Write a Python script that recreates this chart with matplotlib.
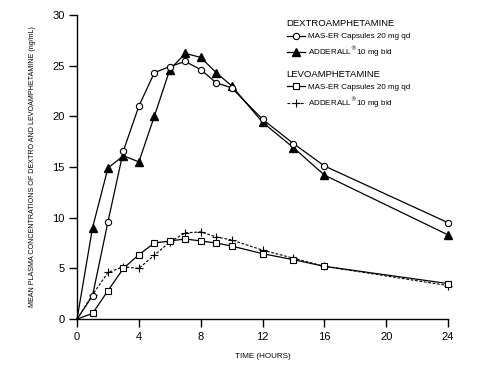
import matplotlib
matplotlib.use("Agg")
import matplotlib.pyplot as plt

plt.rcParams["font.family"] = ["Liberation Sans", "DejaVu Sans"]

hours = [0, 1, 2, 3, 4, 5, 6, 7, 8, 9, 10, 12, 14, 16, 24]
dextro_maser = [0, 2.3, 9.6, 16.6, 21.0, 24.3, 24.9, 25.4, 24.6, 23.3, 22.8, 19.7, 17.3, 15.1, 9.5]
dextro_adderall = [0, 9.0, 14.9, 16.1, 15.5, 20.0, 24.6, 26.2, 25.8, 24.3, 23.0, 19.4, 16.9, 14.2, 8.3]
levo_maser = [0, 0.55, 2.8, 5.0, 6.35, 7.5, 7.7, 7.9, 7.7, 7.5, 7.2, 6.45, 5.85, 5.2, 3.5]
levo_adderall = [0, 2.4, 4.6, 5.15, 5.0, 6.3, 7.6, 8.5, 8.6, 8.1, 7.8, 6.8, 6.0, 5.2, 3.3]

x_ticks = [0, 4, 8, 12, 16, 20, 24]
y_ticks = [0, 5, 10, 15, 20, 25, 30]

fig = plt.figure(figsize=(4.94, 3.71), dpi=100)
ax = fig.add_axes([0.156, 0.140, 0.751, 0.820])

# no marker drawn at the t=0 point
mk_idx = list(range(1, len(hours)))
lw = 0.9
h1, = ax.plot(hours, dextro_maser, color="black", lw=lw, marker="o", ms=4.5,
              mfc="white", mec="black", mew=0.8, markevery=mk_idx, clip_on=False, zorder=4)
h2, = ax.plot(hours, dextro_adderall, color="black", lw=lw, marker="^", ms=5.5,
              mfc="black", mec="black", markevery=mk_idx, clip_on=False, zorder=3)
h4, = ax.plot(hours, levo_adderall, color="black", lw=0.8, ls=(0, (2.5, 1.5)), marker="+",
              ms=5.5, mew=0.8, markevery=mk_idx, clip_on=False, zorder=3)
h3, = ax.plot(hours, levo_maser, color="black", lw=lw, marker="s", ms=4.5,
              mfc="white", mec="black", mew=0.8, markevery=mk_idx, clip_on=False, zorder=4)

ax.set_xlim(0, 24)
ax.set_ylim(0, 30)
ax.set_xticks(x_ticks)
ax.set_yticks(y_ticks)
ax.spines["top"].set_visible(False)
ax.spines["right"].set_visible(False)
for s in ("left", "bottom"):
    ax.spines[s].set_linewidth(1.0)
ax.tick_params(direction="out", length=6, width=1.0, labelsize=8, pad=3)

ax.set_xlabel("TIME (HOURS)", fontsize=5.8, labelpad=8)
ax.set_ylabel("MEAN PLASMA CONCENTRATIONS OF DEXTRO AND LEVOAMPHETAMINE (ng/mL)",
              fontsize=5.1, labelpad=12)

leg_kw = dict(frameon=False, fontsize=5.8, title_fontsize=6.8, alignment="left",
              handlelength=2.3, handletextpad=0.3, labelspacing=0.55,
              borderaxespad=0.0, borderpad=0.0)
adderall_lbl = "ADDERALL$^{\u00ae}$10 mg bid"
leg1 = ax.legend([h1, h2], ["MAS-ER Capsules 20 mg qd", adderall_lbl],
                 title="DEXTROAMPHETAMINE", loc="upper left",
                 bbox_to_anchor=(0.565, 0.985), **leg_kw)
ax.add_artist(leg1)
ax.legend([h3, h4], ["MAS-ER Capsules 20 mg qd", adderall_lbl],
          title="LEVOAMPHETAMINE", loc="upper left",
          bbox_to_anchor=(0.565, 0.818), **leg_kw)

fig.savefig("out.png", dpi=100)
